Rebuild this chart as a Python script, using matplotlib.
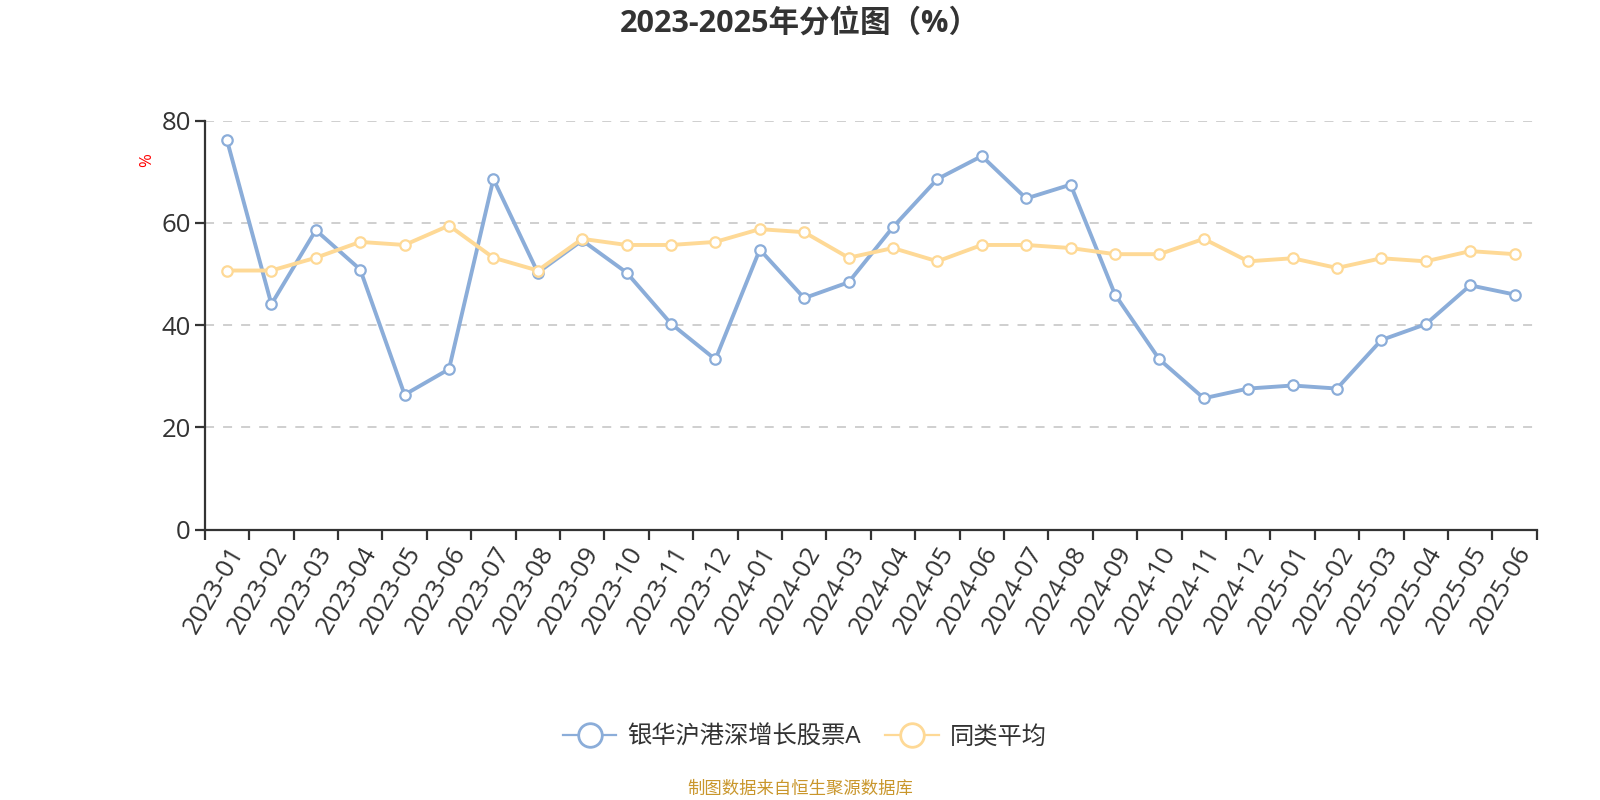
import matplotlib
matplotlib.use("Agg")
import matplotlib.pyplot as plt
from matplotlib.lines import Line2D

plt.rcParams['font.family'] = ['Open Sans', 'Noto Sans CJK SC', 'DejaVu Sans']

months = ["2023-01", "2023-02", "2023-03", "2023-04", "2023-05", "2023-06",
          "2023-07", "2023-08", "2023-09", "2023-10", "2023-11", "2023-12",
          "2024-01", "2024-02", "2024-03", "2024-04", "2024-05", "2024-06",
          "2024-07", "2024-08", "2024-09", "2024-10", "2024-11", "2024-12",
          "2025-01", "2025-02", "2025-03", "2025-04", "2025-05", "2025-06"]
fund = [76.2, 44.1, 58.6, 50.9, 26.4, 31.4, 68.6, 50.3, 56.6, 50.3, 40.3, 33.3,
        54.8, 45.3, 48.4, 59.2, 68.6, 73.1, 64.8, 67.5, 46.0, 33.3, 25.7, 27.6,
        28.2, 27.6, 37.1, 40.2, 47.8, 46.0]
peer = [50.7, 50.7, 53.2, 56.3, 55.7, 59.5, 53.2, 50.7, 56.9, 55.7, 55.7, 56.3,
        58.8, 58.2, 53.2, 55.1, 52.5, 55.7, 55.7, 55.1, 53.9, 53.9, 56.9, 52.5,
        53.1, 51.2, 53.1, 52.5, 54.5, 53.9]
fund_name = "银华沪港深增长股票A"
peer_name = "同类平均"
title = "2023-2025年分位图（%）"
source = "制图数据来自恒生聚源数据库"

blue = "#8badd9"
orange = "#fed996"
text_c = "#333333"

fig = plt.figure(figsize=(16, 8), dpi=100)
ax = fig.add_axes([0.128, 0.338, 0.8325, 0.511])

x = list(range(len(months)))
ax.plot(x, fund, color=blue, lw=2.8, marker='o', ms=7.5, mfc='white',
        mec=blue, mew=1.6, zorder=3, clip_on=False)
ax.plot(x, peer, color=orange, lw=2.8, marker='o', ms=7.5, mfc='white',
        mec=orange, mew=1.6, zorder=4, clip_on=False)

ax.set_xlim(-0.5, len(months) - 0.5)
ax.set_ylim(0, 80)
ax.set_yticks([0, 20, 40, 60, 80])
ax.set_xticks(x)
ax.set_xticklabels(months, rotation=60, ha='right', rotation_mode='anchor',
                   fontsize=18.5, color=text_c)
ax.set_xticks([i - 0.5 for i in range(len(months) + 1)], minor=True)
ax.tick_params(axis='x', which='major', length=0, pad=9)
ax.tick_params(axis='x', which='minor', length=7, width=1.6, color=text_c)
ax.tick_params(axis='y', length=7, width=1.6, color=text_c, labelsize=18.5,
               labelcolor=text_c, pad=3)

for s in ['top', 'right']:
    ax.spines[s].set_visible(False)
for s in ['left', 'bottom']:
    ax.spines[s].set_color(text_c)
    ax.spines[s].set_linewidth(1.6)

ax.yaxis.grid(True, linestyle=(0, (5, 5)), color='#cccccc', lw=1.3)
ax.set_axisbelow(True)

ax.set_ylabel('%', color='red', fontsize=12)
ax.yaxis.set_label_coords(-0.037, 0.905)

fig.text(0.5, 0.971, title, ha='center', va='center', fontsize=22,
         fontweight='bold', color=text_c)

handles = [Line2D([0], [0], color=blue, lw=1.6, marker='o', ms=17, mfc='white',
                  mec=blue, mew=2),
           Line2D([0], [0], color=orange, lw=1.6, marker='o', ms=17, mfc='white',
                  mec=orange, mew=2)]
fig.legend(handles, [fund_name, peer_name], loc='center',
           bbox_to_anchor=(0.503, 0.078), ncol=2, frameon=False, fontsize=17.5,
           handlelength=2.2, handletextpad=0.45, columnspacing=1.0,
           labelcolor=text_c)

fig.text(0.5, 0.0125, source, ha='center', va='center', fontsize=12.5,
         color='#c9962b')

fig.savefig('out.png', dpi=100)
